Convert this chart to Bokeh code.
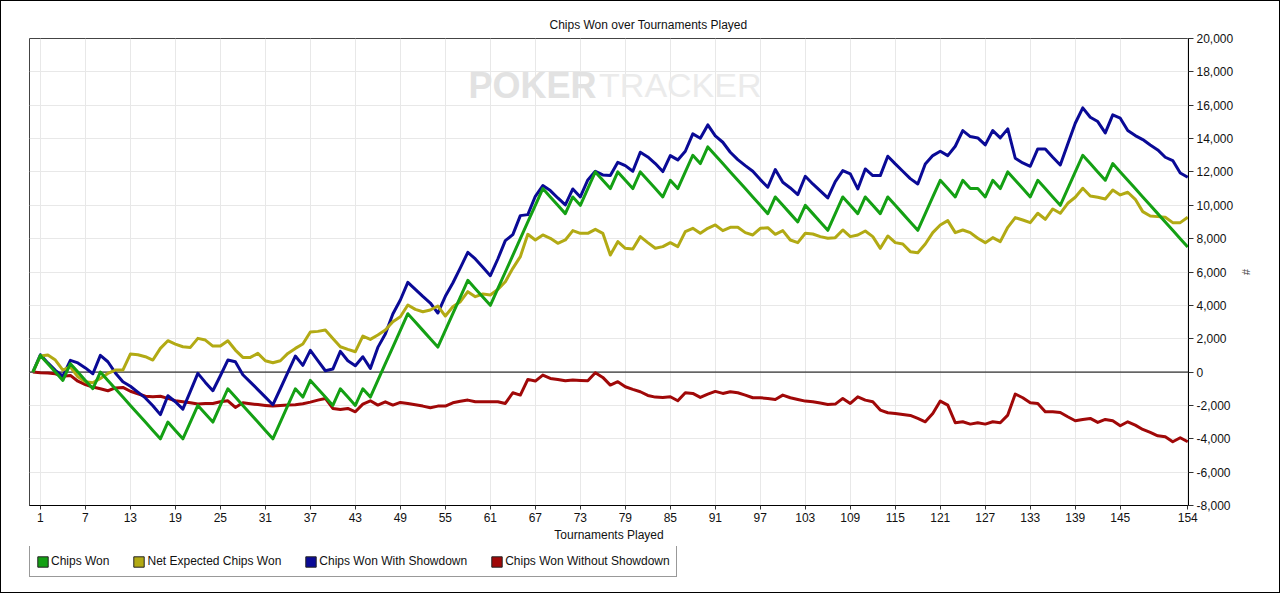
from bokeh.plotting import figure
from bokeh.layouts import column
from bokeh.models import (ColumnDataSource, FixedTicker, NumeralTickFormatter, Span,
                          Legend, LegendItem, Range1d, Label)
from bokeh.embed import file_html
from bokeh.resources import INLINE

# ---------------- data ----------------
tournaments = list(range(0, 155))

chips_won = [
    0, 1000, 500, 0, -500, 500, 0, -500, -1000, 0,
    -500, -1000, -1500, -2000, -2500, -3000, -3500, -4000, -3000, -3500,
    -4000, -3000, -2000, -2500, -3000, -2000, -1000, -1500, -2000, -2500,
    -3000, -3500, -4000, -3000, -2000, -1000, -1500, -500, -1000, -1500,
    -2000, -1000, -1500, -2000, -1000, -1500, -500, 500, 1500, 2500,
    3500, 3000, 2500, 2000, 1500, 2500, 3500, 4500, 5500, 5000,
    4500, 4000, 5000, 6000, 7000, 8000, 9000, 10000, 11000, 10500,
    10000, 9500, 10500, 10000, 11000, 12000, 11500, 11000, 12000, 11500,
    11000, 12000, 11500, 11000, 10500, 11500, 11000, 12000, 13000, 12500,
    13500, 13000, 12500, 12000, 11500, 11000, 10500, 10000, 9500, 10500,
    10000, 9500, 9000, 10000, 9500, 9000, 8500, 9500, 10500, 10000,
    9500, 10500, 10000, 9500, 10500, 10000, 9500, 9000, 8500, 9500,
    10500, 11500, 11000, 10500, 11500, 11000, 11000, 10500, 11500, 11000,
    12000, 11500, 11000, 10500, 11500, 11000, 10500, 10000, 11000, 12000,
    13000, 12500, 12000, 11500, 12500, 12000, 11500, 11000, 10500, 10000,
    9500, 9000, 8500, 8000, 7500,
]

net_expected = [
    0, 960, 1020, 720, 120, 320, -280, -580, -640, -380,
    -80, 120, 120, 1080, 1040, 920, 720, 1420, 1880, 1680,
    1520, 1480, 2020, 1920, 1560, 1560, 1880, 1320, 880, 880,
    1120, 680, 560, 680, 1120, 1420, 1680, 2400, 2440, 2520,
    2020, 1520, 1360, 1220, 2160, 1960, 2220, 2520, 3020, 3320,
    4020, 3760, 3620, 3720, 3960, 3360, 3920, 4220, 4820, 4520,
    4680, 4620, 4960, 5420, 6220, 6920, 8260, 7920, 8220, 8020,
    7720, 7920, 8480, 8320, 8320, 8560, 8320, 7020, 7820, 7420,
    7380, 8120, 7760, 7420, 7520, 7760, 7520, 8420, 8620, 8320,
    8620, 8820, 8480, 8680, 8680, 8360, 8220, 8620, 8660, 8260,
    8480, 7920, 7760, 8320, 8280, 8120, 8020, 8060, 8520, 8120,
    8220, 8460, 8120, 7420, 8160, 7760, 7680, 7220, 7160, 7680,
    8360, 8820, 9080, 8360, 8520, 8360, 8020, 7760, 8060, 7820,
    8680, 9260, 9120, 8960, 9520, 9160, 9780, 9520, 10120, 10480,
    11020, 10560, 10480, 10380, 10920, 10620, 10780, 10360, 9620, 9360,
    9320, 9280, 8960, 8960, 9280,
]

with_showdown = [
    0, 1040, 550, 100, -250, 700, 550, 250, -100, 1000,
    620, -50, -580, -850, -1200, -1550, -2020, -2550, -1420, -1780,
    -2220, -1160, -80, -620, -1120, -220, 720, 620, -160, -600,
    -1050, -1500, -1960, -1000, -20, 960, 400, 1300, 680, 80,
    180, 1240, 680, 380, 920, 220, 1480, 2280, 3480, 4320,
    5380, 4960, 4540, 4140, 3540, 4540, 5340, 6250, 7180, 6780,
    6280, 5780, 6780, 7880, 8240, 9380, 9440, 10540, 11180, 10880,
    10440, 10020, 10980, 10500, 11520, 12040, 11820, 11780, 12580, 12380,
    12040, 13180, 12900, 12500, 12020, 12980, 12720, 13240, 14280, 14020,
    14820, 14160, 13780, 13180, 12740, 12380, 12040, 11540, 11080, 12140,
    11380, 11040, 10640, 11740, 11280, 10860, 10440, 11420, 12080, 11880,
    10980, 12180, 11780, 11780, 12940, 12480, 12040, 11600, 11280, 12480,
    12980, 13240, 12980, 13540, 14480, 14120, 14040, 13620, 14480, 14040,
    14580, 12820, 12540, 12340, 13380, 13380, 12880, 12420, 13680, 14920,
    15840, 15280, 15020, 14340, 15420, 15220, 14480, 14180, 13940, 13620,
    13320, 12880, 12680, 11940, 11680,
]

without_showdown = [
    0, -40, -50, -100, -250, -200, -550, -750, -900, -1000,
    -1120, -950, -920, -1150, -1300, -1450, -1480, -1450, -1580, -1720,
    -1780, -1840, -1920, -1880, -1880, -1780, -1720, -2120, -1840, -1900,
    -1950, -2000, -2040, -2000, -1980, -1960, -1900, -1800, -1680, -1580,
    -2180, -2240, -2180, -2380, -1920, -1720, -1980, -1780, -1980, -1820,
    -1880, -1960, -2040, -2140, -2040, -2040, -1840, -1750, -1680, -1780,
    -1780, -1780, -1780, -1880, -1240, -1380, -440, -540, -180, -380,
    -440, -520, -480, -500, -520, -40, -320, -780, -580, -880,
    -1040, -1180, -1400, -1500, -1520, -1480, -1720, -1240, -1280, -1520,
    -1320, -1160, -1280, -1180, -1240, -1380, -1540, -1540, -1580, -1640,
    -1380, -1540, -1640, -1740, -1780, -1860, -1940, -1920, -1580, -1880,
    -1480, -1680, -1780, -2280, -2440, -2480, -2540, -2600, -2780, -2980,
    -2480, -1740, -1980, -3040, -2980, -3120, -3040, -3120, -2980, -3040,
    -2580, -1320, -1540, -1840, -1880, -2380, -2380, -2420, -2680, -2920,
    -2840, -2780, -3020, -2840, -2920, -3220, -2980, -3180, -3440, -3620,
    -3820, -3880, -4180, -3940, -4180,
]

x_tick_values = [1, 7, 13, 19, 25, 31, 37, 43, 49, 55, 61, 67, 73, 79, 85, 91,
                 97, 103, 109, 115, 121, 127, 133, 139, 145, 154]
y_tick_values = [-8000, -6000, -4000, -2000, 0, 2000, 4000, 6000, 8000, 10000,
                 12000, 14000, 16000, 18000, 20000]

series_names = ["Chips Won", "Net Expected Chips Won",
                "Chips Won With Showdown", "Chips Won Without Showdown"]
series_colors = ["#14a014", "#b2aa14", "#0a0a96", "#a00808"]

FONT = "Liberation Sans"

# ---------------- main figure ----------------
p = figure(width=1278, height=545, output_backend="svg", toolbar_location=None,
           x_range=Range1d(-0.45, 154.1), y_range=Range1d(-8000, 20000),
           y_axis_location="right",
           frame_width=1159, frame_height=467,
           min_border_left=28, min_border_right=91, min_border_top=37,
           min_border_bottom=41, background_fill_color="white",
           border_fill_color="white")

p.title.text = "Chips Won over Tournaments Played"
p.title.align = "left"
p.title.offset = 520
p.title.text_font = FONT
p.title.text_font_size = "12px"
p.title.text_font_style = "normal"
p.title.text_color = "#111111"
p.title.standoff = 13

p.outline_line_color = "#444444"
p.outline_line_width = 1

# grids
p.xgrid.ticker = FixedTicker(ticks=x_tick_values)
p.ygrid.ticker = FixedTicker(ticks=y_tick_values)
p.xgrid.grid_line_color = "#e8e8e8"
p.ygrid.grid_line_color = "#e8e8e8"

# x axis
xa = p.xaxis[0]
xa.ticker = FixedTicker(ticks=x_tick_values)
xa.axis_label = "Tournaments Played"
xa.axis_label_text_font = FONT
xa.axis_label_text_font_size = "12px"
xa.axis_label_text_font_style = "normal"
xa.axis_label_text_color = "#111111"
xa.axis_label_standoff = 3
xa.major_label_text_font = FONT
xa.major_label_text_font_size = "12px"
xa.major_label_text_color = "#111111"
xa.major_label_standoff = 3
xa.major_tick_in = 0
xa.major_tick_out = 4
xa.minor_tick_out = 0
xa.minor_tick_in = 0
xa.axis_line_color = "black"
xa.major_tick_line_color = "#333333"

# y axis (right)
ya = p.yaxis[0]
ya.ticker = FixedTicker(ticks=y_tick_values)
ya.formatter = NumeralTickFormatter(format="0,0")
ya.axis_label = "#"
ya.axis_label_text_font = FONT
ya.axis_label_text_font_size = "11px"
ya.axis_label_text_font_style = "normal"
ya.axis_label_standoff = 4
ya.major_label_text_font = FONT
ya.major_label_text_font_size = "12px"
ya.major_label_text_color = "#111111"
ya.major_label_standoff = 3
ya.major_tick_in = 0
ya.major_tick_out = 5
ya.minor_tick_out = 0
ya.minor_tick_in = 0
ya.axis_line_color = "black"
ya.major_tick_line_color = "#333333"

# watermark
wm1 = Label(x=58.1, y=17200, text="POKER", text_font=FONT,
            text_font_size="36px", text_font_style="bold", text_color="#e2e2e2",
            text_baseline="middle", text_align="left", level="underlay")
wm2 = Label(x=75.5, y=17200, text="TRACKER", text_font=FONT,
            text_font_size="34px", text_font_style="normal", text_color="#ebebeb",
            text_baseline="middle", text_align="left", level="underlay")
p.add_layout(wm1)
p.add_layout(wm2)

# zero line
zero = Span(location=0, dimension="width", line_color="black", line_width=1,
            level="underlay")
p.add_layout(zero)

source = ColumnDataSource(data=dict(
    t=tournaments, won=chips_won, nev=net_expected,
    sd=with_showdown, nsd=without_showdown))

cols = ["won", "nev", "sd", "nsd"]
draw_order = [3, 2, 1, 0]
for i in draw_order:
    p.line("t", cols[i], source=source, line_color=series_colors[i],
           line_width=3, line_join="round")

# ---------------- legend strip ----------------
lg = figure(width=1278, height=46, output_backend="svg", toolbar_location=None,
            x_range=Range1d(0, 1), y_range=Range1d(0, 1),
            x_axis_location=None, y_axis_location=None,
            min_border=0, outline_line_color=None,
            background_fill_color="white", border_fill_color="white")
lg.grid.visible = False

items = []
for name, color in zip(series_names, series_colors):
    src = ColumnDataSource(data=dict(l=[-5], r=[-4], b=[-5], t=[-4]))
    r = lg.quad(left="l", right="r", bottom="b", top="t", source=src,
                fill_color=color, line_color="#222222", line_width=1)
    items.append(LegendItem(label=name, renderers=[r]))

legend = Legend(items=items, orientation="horizontal", location=(0, 15),
                border_line_color="#333333", border_line_width=1,
                background_fill_color="white", background_fill_alpha=1,
                padding=6, spacing=23, margin=0, label_standoff=2,
                glyph_width=13, glyph_height=13, label_height=18,
                label_text_font=FONT, label_text_font_size="12px",
                label_text_color="#111111")
lg.add_layout(legend, "center")

layout = column(p, lg, spacing=0,
                styles={"border": "1px solid black"})

open("out.html", "w").write(file_html(layout, INLINE))
